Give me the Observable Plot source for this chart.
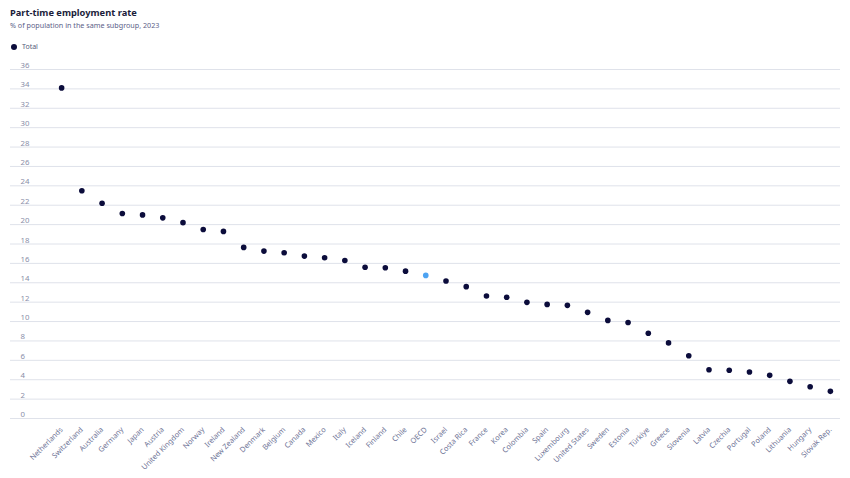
<!DOCTYPE html>
<html>
<head>
<meta charset="utf-8">
<script src="https://cdn.jsdelivr.net/npm/d3@7"></script>
<script src="https://cdn.jsdelivr.net/npm/@observablehq/plot@0.6"></script>
<style>
  body { margin: 0; background: #fff; font-family: "Noto Sans", sans-serif; }
  #wrap { width: 850px; height: 478px; position: relative; overflow: hidden; }
  .title { position: absolute; left: 10px; top: 6px; font-size: 9.3px; line-height: 14px; font-weight: 700; color: #1b1d3a; }
  .subtitle { position: absolute; left: 10px; top: 19px; font-size: 7.2px; line-height: 12px; color: #5c6188; }
  .legend { position: absolute; left: 10px; top: 41px; font-size: 7px; line-height: 12px; color: #555b7a; display: flex; align-items: center; }
  .legend .dot { width: 6px; height: 6px; border-radius: 50%; background: #0b0c3b; margin-right: 5px; margin-left: 1px; }
  #chart { position: absolute; left: 0; top: 58px; }
</style>
</head>
<body>
<div id="wrap">
  <div class="title">Part-time employment rate</div>
  <div class="subtitle">% of population in the same subgroup, 2023</div>
  <div class="legend"><span class="dot"></span>Total</div>
  <div id="chart"></div>
</div>
<script>
const countries = ["Netherlands","Switzerland","Australia","Germany","Japan","Austria","United Kingdom","Norway","Ireland","New Zealand","Denmark","Belgium","Canada","Mexico","Italy","Iceland","Finland","Chile","OECD","Israel","Costa Rica","France","Korea","Colombia","Spain","Luxembourg","United States","Sweden","Estonia","Türkiye","Greece","Slovenia","Latvia","Czechia","Portugal","Poland","Lithuania","Hungary","Slovak Rep."];
const values = [34.1,23.5,22.2,21.15,21.0,20.7,20.2,19.5,19.3,17.65,17.27,17.1,16.75,16.58,16.3,15.6,15.55,15.2,14.76,14.18,13.6,12.63,12.5,11.98,11.77,11.67,10.95,10.12,9.9,8.8,7.8,6.47,5.03,4.97,4.8,4.45,3.83,3.28,2.8];
const yTicks = [0,2,4,6,8,10,12,14,16,18,20,22,24,26,28,30,32,34,36];
const highlight = "OECD";

const data = countries.map((c, i) => ({country: c, value: values[i]}));

const chart = Plot.plot({
  width: 850,
  height: 420,
  marginTop: 11,
  marginBottom: 60,
  marginLeft: 10,
  marginRight: 10,
  style: {fontFamily: "Noto Sans, sans-serif", background: "transparent"},
  x: {type: "point", domain: countries, padding: 0.5, insetLeft: 41, round: false},
  y: {domain: [0, 36]},
  marks: [
    Plot.ruleY(yTicks, {stroke: "#dfe2ea", strokeWidth: 1}),
    Plot.axisY({ticks: yTicks, tickSize: 0, tickPadding: 0, textAnchor: "start", dx: 10, dy: -4, fontSize: 7.8, fill: "#8a8ea8", label: null}),
    Plot.axisX({tickSize: 0, tickPadding: 10, tickRotate: -45, fontSize: 7.4, fill: "#6e7396", label: null}),
    Plot.dot(data, {x: "country", y: "value", r: 2.8, fill: d => d.country === highlight ? "#4da3f2" : "#0b0c3b", stroke: null})
  ]
});
document.getElementById("chart").appendChild(chart);
</script>
</body>
</html>
